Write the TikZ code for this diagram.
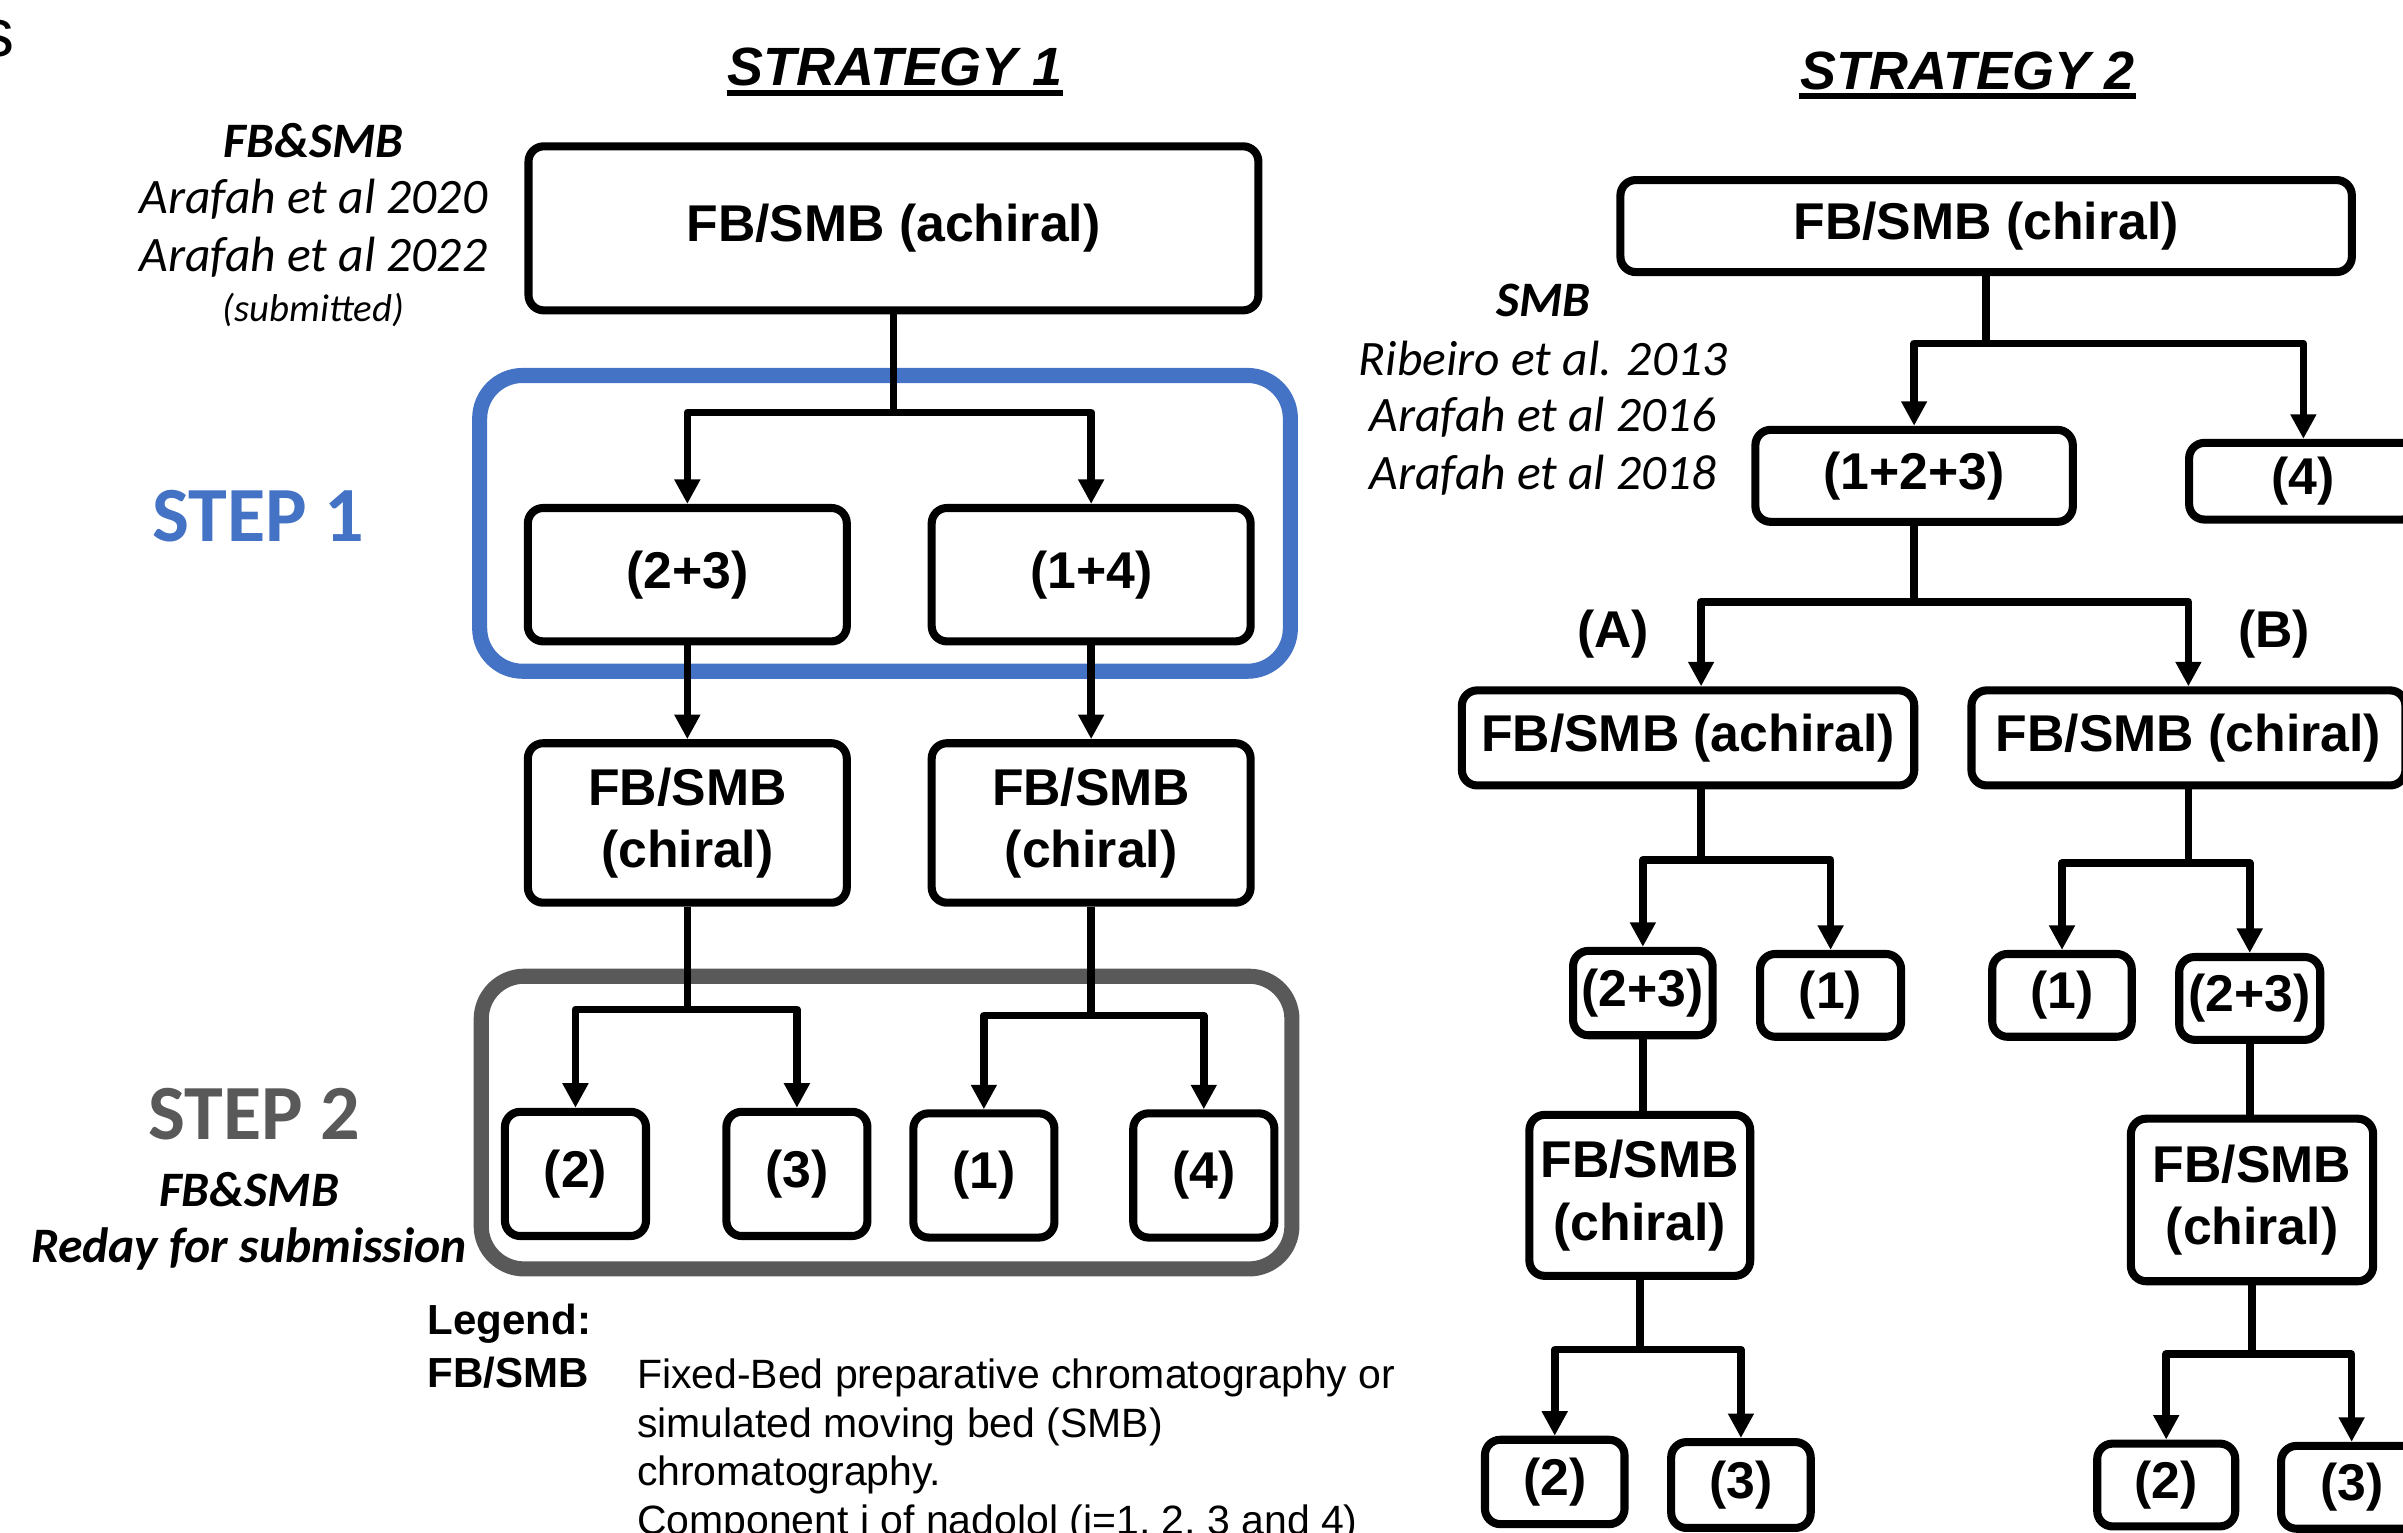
\documentclass[tikz,border=0pt]{standalone}
\usepackage{fontspec}
\setmainfont{Liberation Sans}
\newfontfamily\calibri{Carlito}
\usepackage{xcolor}
\usetikzlibrary{arrows.meta, positioning}

\definecolor{stepblue}{HTML}{4472C4}
\definecolor{stepgray}{HTML}{595959}

\begin{document}
\begin{tikzpicture}[x=0.01cm, y=-0.01cm, line join=round,
    box/.style={draw, rounded corners=1mm, line width=1.5pt, inner sep=0pt, align=center,
                font=\fontsize{9.6}{11.6}\selectfont\bfseries},
    arr/.style={-{Triangle[length=1.6mm, width=1.6mm]}, line width=1.4pt},
    stem/.style={line width=1.4pt},
    frame/.style={line width=2.8pt, rounded corners=2.8mm},
    title/.style={inner sep=0pt, font=\fontsize{10}{12}\selectfont\bfseries\itshape},
    ref/.style={inner sep=0pt, font=\calibri\fontsize{9.2}{11}\selectfont\itshape},
    steplabel/.style={inner sep=0pt, font=\calibri\fontsize{14.5}{17}\selectfont\bfseries},
    legend/.style={inner sep=0pt, font=\fontsize{7.6}{9}\selectfont}]

    \useasboundingbox (0,0) rectangle (1568,1000);
    \clip (0,0) rectangle (1568,1000);

    \node[inner sep=0pt, anchor=base east, font=\fontsize{12.6}{14}\selectfont] (cut) at (10,37) {s};

    % --- STRATEGY 1 ---
    \node[title] (st1) at (584,44) {STRATEGY 1};
    \draw[line width=1pt] ([yshift=-1.3pt]st1.base west) -- ([yshift=-1.3pt]st1.base east);

    \node[box, minimum width=4.76cm, minimum height=1.07cm] (top1) at (583,149) {FB/SMB (achiral)};

    % references, left
    \node[ref] (refA) at (204.5,92) {\bfseries FB\&SMB};
    \node[ref] (refB) at (204.5,130) {Arafah et al 2020};
    \node[ref] (refC) at (204.5,168) {Arafah et al 2022};
    \node[ref, font=\calibri\fontsize{7.2}{8}\selectfont\itshape] (refD) at (204.5,202) {(submitted)};

    % step 1
    \draw[frame, stepblue] (313,245) rectangle (842,438);
    \node[steplabel, text=stepblue] (step1) at (168.5,337) {STEP 1};

    \node[box, minimum width=2.08cm, minimum height=0.87cm] (s23) at (448.5,375) {(2+3)};
    \node[box, minimum width=2.08cm, minimum height=0.87cm] (s14) at (712,375) {(1+4)};

    \node[box, minimum width=2.08cm, minimum height=1.04cm] (chL) at (448.5,537) {FB/SMB\\(chiral)};
    \node[box, minimum width=2.08cm, minimum height=1.04cm] (chR) at (712,537) {FB/SMB\\(chiral)};

    % step 2
    \draw[frame, stepgray] (314,637) rectangle (843,828);
    \node[steplabel, text=stepgray] (step2) at (166,727) {STEP 2};
    \node[ref] (refE) at (162.5,776) {\bfseries FB\&SMB};
    \node[ref] (refF) at (162.5,815) {\bfseries Reday for submission};

    \node[box, minimum width=0.92cm, minimum height=0.81cm] (p2) at (375.5,766) {(2)};
    \node[box, minimum width=0.92cm, minimum height=0.81cm] (p3) at (520,766) {(3)};
    \node[box, minimum width=0.92cm, minimum height=0.81cm] (p1) at (642,767) {(1)};
    \node[box, minimum width=0.92cm, minimum height=0.81cm] (p4) at (785.5,767) {(4)};

    % edges, strategy 1
    \draw[arr] (top1.south) -- ++(0,64) -| (s23.north);
    \draw[arr] (top1.south) -- ++(0,64) -| (s14.north);
    \draw[arr] (s23) -- (chL);
    \draw[arr] (s14) -- (chR);
    \draw[arr] (chL.south) -- ++(0,67) -| (p2.north);
    \draw[arr] (chL.south) -- ++(0,67) -| (p3.north);
    \draw[arr] (chR.south) -- ++(0,71) -| (p1.north);
    \draw[arr] (chR.south) -- ++(0,71) -| (p4.north);

    % --- STRATEGY 2 ---
    \node[title] (st2) at (1284,46) {STRATEGY 2};
    \draw[line width=1pt] ([yshift=-1.3pt]st2.base west) -- ([yshift=-1.3pt]st2.base east);

    \node[box, minimum width=4.77cm, minimum height=0.60cm] (top2) at (1296,147.5) {FB/SMB (chiral)};

    % references, right
    \node[ref] (refG) at (1007,196) {\bfseries SMB};
    \node[ref] (refH) at (1007,234) {Ribeiro et al. 2013};
    \node[ref] (refI) at (1007,272) {Arafah et al 2016};
    \node[ref] (refJ) at (1007,310) {Arafah et al 2018};

    \node[box, minimum width=2.07cm, minimum height=0.60cm] (n123) at (1249,310.5) {(1+2+3)};
    \node[box, minimum width=1.49cm, minimum height=0.50cm] (n4) at (1503,314) {(4)};

    \node[font=\fontsize{9.6}{11.6}\selectfont\bfseries, inner sep=0pt] (labA) at (1052.5,414) {(A)};
    \node[font=\fontsize{9.6}{11.6}\selectfont\bfseries, inner sep=0pt] (labB) at (1484,414) {(B)};

    \node[box, minimum width=2.95cm, minimum height=0.62cm] (ach) at (1101.5,481.5) {FB/SMB (achiral)};
    \node[box, minimum width=2.83cm, minimum height=0.62cm] (chB) at (1428,481.5) {FB/SMB (chiral)};

    % branch (A)
    \node[box, minimum width=0.91cm, minimum height=0.55cm] (n23a) at (1072,648) {(2+3)};
    \node[box, minimum width=0.92cm, minimum height=0.54cm] (n1a) at (1194.5,649.5) {(1)};
    \node[box, minimum width=1.44cm, minimum height=1.05cm] (chA2) at (1070,780) {FB/SMB\\(chiral)};
    \node[box, minimum width=0.91cm, minimum height=0.55cm] (p2a) at (1014.5,967) {(2)};
    \node[box, minimum width=0.91cm, minimum height=0.56cm] (p3a) at (1136,969) {(3)};

    % branch (B)
    \node[box, minimum width=0.91cm, minimum height=0.54cm] (n1b) at (1345.5,649.5) {(1)};
    \node[box, minimum width=0.92cm, minimum height=0.54cm] (n23b) at (1468,651.5) {(2+3)};
    \node[box, minimum width=1.58cm, minimum height=1.06cm] (chB2) at (1469.5,783) {FB/SMB\\(chiral)};
    \node[box, minimum width=0.90cm, minimum height=0.54cm] (p2b) at (1413.5,969) {(2)};
    \node[box, minimum width=0.92cm, minimum height=0.54cm] (p3b) at (1534.5,970.5) {(3)};

    % edges, strategy 2
    \draw[arr] (top2.south) -- ++(0,44) -| (n123.north);
    \draw[arr] (top2.south) -- ++(0,44) -| (n4.north);
    \draw[arr] (n123.south) -- ++(0,49.5) -| ([xshift=0.085cm]ach.north);
    \draw[arr] (n123.south) -- ++(0,49.5) -| (chB.north);
    \draw[arr] ([xshift=0.085cm]ach.south) -- ++(0,46) -| (n23a.north);
    \draw[arr] ([xshift=0.085cm]ach.south) -- ++(0,46) -| (n1a.north);
    \draw[stem] (n23a.south) -- (n23a.south |- chA2.north);
    \draw[arr] (chA2.south) -- ++(0,45.5) -| (p2a.north);
    \draw[arr] (chA2.south) -- ++(0,45.5) -| (p3a.north);
    \draw[arr] (chB.south) -- ++(0,48) -| (n1b.north);
    \draw[arr] (chB.south) -- ++(0,48) -| (n23b.north);
    \draw[stem] (n23b.south) -- (n23b.south |- chB2.north);
    \draw[arr] (chB2.south) -- ++(0,45) -| (p2b.north);
    \draw[arr] (chB2.south) -- ++(0,45) -| (p3b.north);

    % --- LEGEND ---
    \node[legend, anchor=west, font=\fontsize{7.8}{9}\selectfont\bfseries] (leg) at (278.5,864) {Legend:};
    \node[legend, anchor=west, font=\fontsize{7.8}{9}\selectfont\bfseries] (legkey) at (278.5,896) {FB/SMB};
    \node[legend, anchor=north west, align=left] (legtext) at (415,886)
        {Fixed-Bed preparative chromatography or\\simulated moving bed (SMB)\\chromatography.\\Component i of nadolol (i=1, 2, 3 and 4)};

\end{tikzpicture}
\end{document}
